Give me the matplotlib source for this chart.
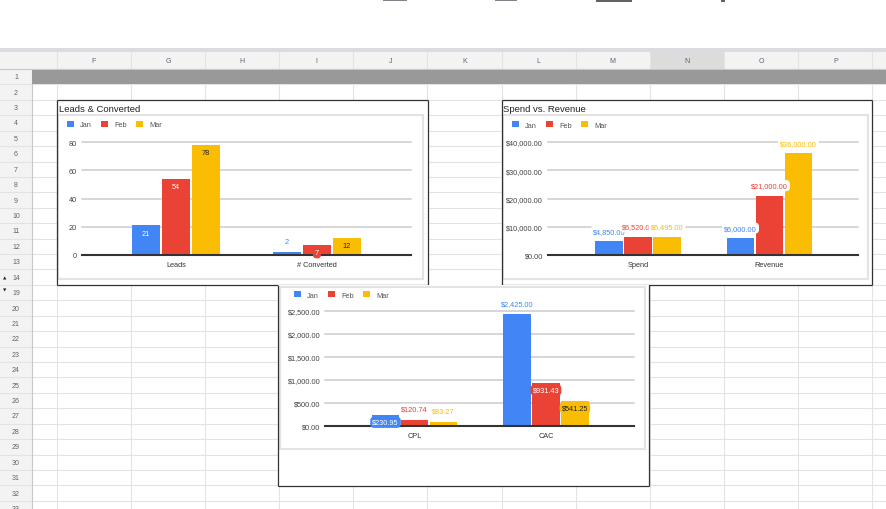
import matplotlib
matplotlib.use('Agg')
import matplotlib.pyplot as plt
from matplotlib.patches import Rectangle
from matplotlib.ticker import FuncFormatter

plt.rcParams['font.family'] = ['Liberation Sans', 'DejaVu Sans']

# ---------------- data ----------------
SERIES = ['Jan', 'Feb', 'Mar']
COLORS = ['#4285F4', '#EA4335', '#FBBC04']

LEADS_CATS = ['Leads', '# Converted']
LEADS_JAN = [21, 2]
LEADS_FEB = [54, 7]
LEADS_MAR = [78, 12]
LEADS_TICKS = [0, 20, 40, 60, 80]

SR_CATS = ['Spend', 'Revenue']
SR_JAN = [4850.00, 6000.00]
SR_FEB = [6520.00, 21000.00]
SR_MAR = [6495.00, 36000.00]
SR_TICKS = [0, 10000, 20000, 30000, 40000]

CC_CATS = ['CPL', 'CAC']
CC_JAN = [230.95, 2425.00]
CC_FEB = [120.74, 931.43]
CC_MAR = [83.27, 541.25]
CC_TICKS = [0, 500, 1000, 1500, 2000, 2500]

COL_LETTERS = ['F', 'G', 'H', 'I', 'J', 'K', 'L', 'M', 'N', 'O', 'P']
ROW_NUMBERS = list(range(1, 15)) + list(range(19, 34))

TITLE1 = 'Leads & Converted'
TITLE2 = 'Spend vs. Revenue'

# label placement styles (per series, per category)
LEADS_PLACE = [['in', 'out'], ['in', 'in'], ['in', 'in']]
SR_PLACE = [['out', 'out'], ['out', 'out'], ['out', 'out']]
CC_PLACE = [['in', 'out'], ['out', 'in'], ['out', 'in']]

# ---------------- layout ----------------
W, H = 887, 510
fig = plt.figure(figsize=(W / 100, H / 100), dpi=100)
fig.patch.set_facecolor('white')


def fbox(x0, y0, x1, y1):
    return [x0 / W, 1 - y1 / H, (x1 - x0) / W, (y1 - y0) / H]


bg = fig.add_axes([0, 0, 1, 1])
bg.set_xlim(0, W)
bg.set_ylim(H, 0)
bg.axis('off')

GRID = '#e2e3e3'
HDR = '#f3f3f3'
ROW_TOP = 70.0
PITCH = 15.42
COL0 = 56.7
CW = 74.15

# toolbar fragments at very top
for (x0, x1, h, c) in [(46, 48, 1.2, '#188038'), (383, 407, 1.5, '#80868b'),
                       (495, 517, 1.5, '#80868b'), (596, 632, 3.2, '#5f6368'),
                       (721, 725, 3.2, '#5f6368')]:
    bg.add_patch(Rectangle((x0, 0), x1 - x0, h, color=c, lw=0, zorder=1))

# band under toolbar
bg.add_patch(Rectangle((0, 49), W, 4, color='#dadce0', lw=0, zorder=1))
# column header row
bg.add_patch(Rectangle((0, 53), W, ROW_TOP - 53, color=HDR, lw=0, zorder=1))
# highlighted column N
ni = COL_LETTERS.index('N')
bg.add_patch(Rectangle((COL0 + ni * CW, 53), CW, ROW_TOP - 53, color='#dcdcdc', lw=0, zorder=1.1))
# row header column
bg.add_patch(Rectangle((0, ROW_TOP), 32, H - ROW_TOP, color=HDR, lw=0, zorder=1))

# horizontal grid lines
n_rows = len(ROW_NUMBERS)
for k in range(n_rows + 1):
    y = ROW_TOP + k * PITCH
    bg.plot([0, W], [y, y], color=GRID, lw=0.8, zorder=1.5)
bg.plot([0, W], [ROW_TOP, ROW_TOP], color='#c8c8c8', lw=0.8, zorder=1.6)
# vertical grid lines
bg.plot([32, 32], [ROW_TOP, H], color='#c8c8c8', lw=0.8, zorder=1.6)
for k in range(len(COL_LETTERS) + 1):
    x = COL0 + k * CW
    bg.plot([x, x], [53, H], color=GRID, lw=0.8, zorder=1.5)

# row 1 gray fill
bg.add_patch(Rectangle((32, ROW_TOP + 0.6), W - 32, PITCH - 1.2, color='#999999', lw=0, zorder=2))

# column letters
for k, L in enumerate(COL_LETTERS):
    bg.text(COL0 + (k + 0.5) * CW, 61.5, L, ha='center', va='center',
            fontsize=5, color='#5f6368', zorder=3)
# row numbers
for k, r in enumerate(ROW_NUMBERS):
    yc = ROW_TOP + (k + 0.5) * PITCH
    bg.text(16, yc, str(r), ha='center', va='center', fontsize=5,
            color='#5f6368', zorder=3)
    if r == 14:
        bg.text(5, yc, '\u25B2', ha='center', va='center', fontsize=3.2,
                color='#202124', family='DejaVu Sans', zorder=3)
    if r == 19:
        bg.text(5, yc - 3, '\u25BC', ha='center', va='center', fontsize=3.2,
                color='#202124', family='DejaVu Sans', zorder=3)

# chart boxes
def outer_box(x0, y0, x1, y1, z, top=True):
    bg.add_patch(Rectangle((x0, y0), x1 - x0, y1 - y0, facecolor='white', lw=0, zorder=z))
    edges = [([x0, x0], [y0, y1]), ([x1, x1], [y0, y1]), ([x0, x1], [y1, y1])]
    if top:
        edges.append(([x0, x1], [y0, y0]))
    for xs, ys in edges:
        bg.plot(xs, ys, color='#333333', lw=0.9, zorder=z + 0.2, solid_capstyle='butt')


def card(x0, y0, x1, y1, z):
    bg.add_patch(Rectangle((x0, y0), x1 - x0, y1 - y0, facecolor='white',
                           edgecolor='#e3e3e3', lw=1.5, zorder=z + 0.1))


outer_box(56.7, 101, 427.7, 286, 4)
card(58, 116, 423, 280, 4)
outer_box(501.7, 101, 872.3, 286, 4)
card(503, 116, 868, 280, 4)
outer_box(278.5, 286, 649.3, 487, 5, top=False)
card(280.5, 287.5, 645, 450, 5)

bg.text(59, 109.5, TITLE1, ha='left', va='center', fontsize=6.8, color='#222222', zorder=6)
bg.text(503.5, 109.5, TITLE2, ha='left', va='center', fontsize=6.8, color='#222222', zorder=6)


def money(v, pos=None):
    return '${:,.2f}'.format(v)


def plain(v, pos=None):
    return '{:g}'.format(v)


def draw_chart(axbox, cats, series_vals, ticks, fmt, xlim, width, step,
               place, legend_xy, dy_out, dy_in):
    ax = fig.add_axes(fbox(*axbox))
    ax.patch.set_alpha(0)
    xs = list(range(len(cats)))
    z = 5
    for i, (name, vals, col) in enumerate(zip(SERIES, series_vals, COLORS)):
        off = (i - 1) * step
        bars = ax.bar([x + off for x in xs], vals, width=width, color=col,
                      label=name, zorder=2)
        for j, (b, v) in enumerate(zip(bars, vals)):
            mode = place[i][j]
            if mode == 'in':
                tc = '#222222' if i == 2 else 'white'
                fc = col
                dy = dy_in
            else:
                tc = col
                fc = 'white'
                dy = dy_out
            z += 1
            ax.annotate(fmt(v), (b.get_x() + b.get_width() / 2, v), xytext=(0, dy),
                        textcoords='offset points', ha='center', va='center',
                        fontsize=5.3, color=tc, zorder=z,
                        bbox=dict(boxstyle='round,pad=0.28,rounding_size=0.55',
                                  fc=fc, ec='none'))
    ax.set_ylim(ticks[0], ticks[-1])
    ax.set_yticks(ticks)
    ax.yaxis.set_major_formatter(FuncFormatter(fmt))
    ax.set_xlim(*xlim)
    ax.set_xticks(xs)
    ax.set_xticklabels(cats)
    ax.grid(axis='y', color='#cccccc', lw=1.1)
    ax.set_axisbelow(True)
    for gl in ax.get_ygridlines():
        gl.set_clip_on(False)
    base = ax.axhline(ticks[0], color='#333333', lw=1.5, zorder=3)
    base.set_clip_on(False)
    for s in ax.spines.values():
        s.set_visible(False)
    ax.tick_params(length=0, labelsize=5.3, labelcolor='#444444')
    ax.tick_params(axis='y', pad=3.4)
    ax.tick_params(axis='x', pad=4.2, labelcolor='#333333')
    ax.legend(loc='center left', bbox_to_anchor=(legend_xy[0] / W, 1 - legend_xy[1] / H),
              bbox_transform=fig.transFigure, ncol=3, frameon=False, fontsize=5.3,
              handlelength=0.95, handleheight=0.95, handletextpad=0.8,
              columnspacing=1.28, borderpad=0, borderaxespad=0, labelcolor='#555555')
    return ax


draw_chart((82, 143, 411, 256), LEADS_CATS, [LEADS_JAN, LEADS_FEB, LEADS_MAR],
           LEADS_TICKS, plain, (-0.667, 1.667), 0.205, 0.213, LEADS_PLACE,
           (67, 125.5), 7.8, -5.6)
draw_chart((548, 143, 858, 256), SR_CATS, [SR_JAN, SR_FEB, SR_MAR],
           SR_TICKS, money, (-0.684, 1.673), 0.21, 0.22, SR_PLACE,
           (512, 126), 7.2, -5.6)
draw_chart((325, 312, 634, 427), CC_CATS, [CC_JAN, CC_FEB, CC_MAR],
           CC_TICKS, money, (-0.68, 1.669), 0.21, 0.22, CC_PLACE,
           (294, 296), 8.0, -5.0)

fig.savefig('out.png', dpi=100, facecolor='white')
